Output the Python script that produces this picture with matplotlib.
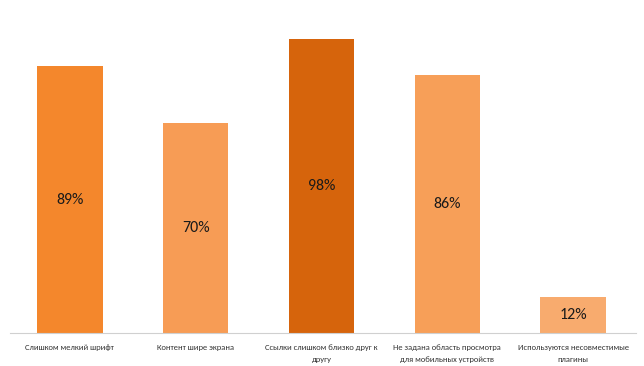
import matplotlib.pyplot as plt

categories = ["Слишком мелкий шрифт", "Контент шире экрана", "Ссылки слишком близко друг к\nдругу",
              "Не задана область просмотра\nдля мобильных устройств", "Используются несовместимые\nплагины"]
values = [89, 70, 98, 86, 12]
colors = ["#F4872C", "#F79C55", "#D6640C", "#F79F58", "#F8AB6E"]

fig = plt.figure(figsize=(6.44, 3.66), dpi=100)
ax = fig.add_axes([7 / 644, 33 / 366, 629 / 644, 300 / 366])

x = range(len(values))
bars = ax.bar(x, values, width=0.52, color=colors)
for i, v in enumerate(values):
    ax.text(i, v / 2, f"{v}%", ha="center", va="center", fontsize=11.5,
            color="#1a1a1a", family=["Carlito", "DejaVu Sans"])

ax.set_xlim(-0.5, len(values) - 0.5)
ax.set_ylim(0, 100)
ax.set_yticks([])
ax.set_xticks(list(x))
ax.set_xticklabels(categories, fontsize=6.1, color="#333333", linespacing=1.75,
                   family=["Carlito", "DejaVu Sans"])
ax.tick_params(axis="x", length=0, pad=8)
for s in ["top", "left", "right"]:
    ax.spines[s].set_visible(False)
ax.spines["bottom"].set_color("#D0D0D0")
ax.spines["bottom"].set_bounds(-0.48, 4.5)

fig.savefig("out.png", dpi=100)
